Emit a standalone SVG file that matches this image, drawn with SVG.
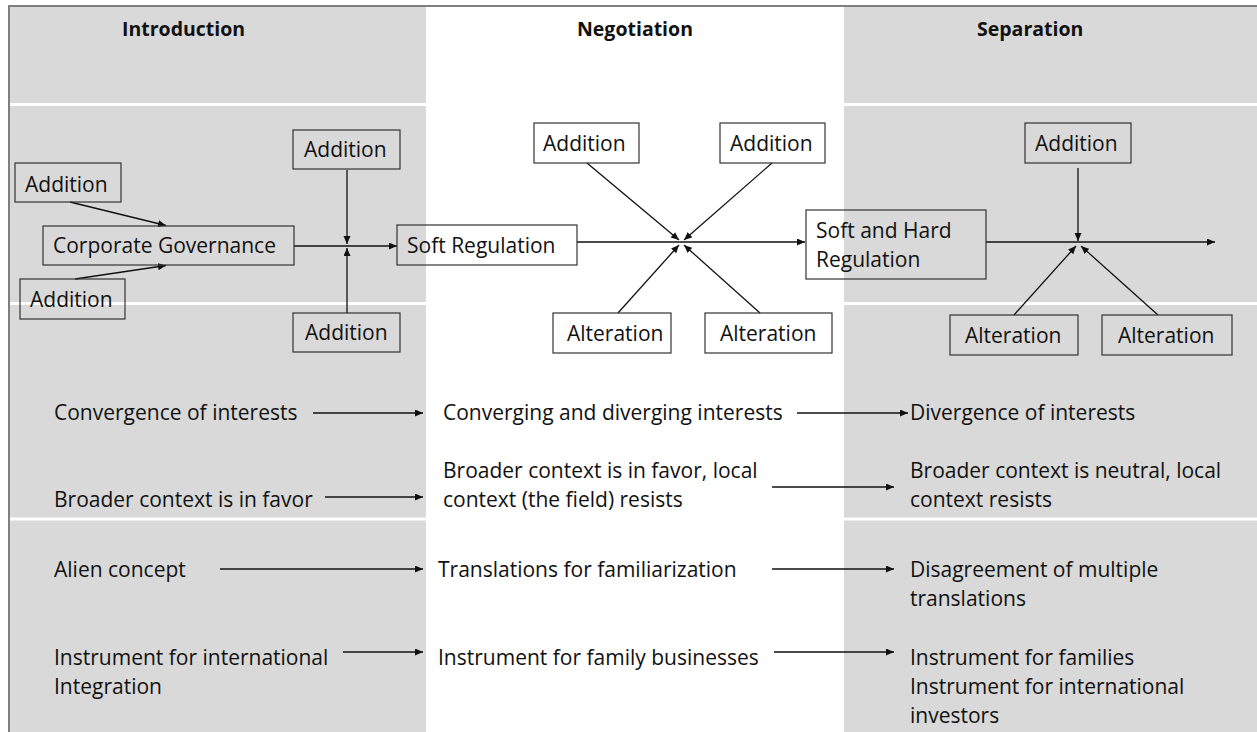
<svg xmlns="http://www.w3.org/2000/svg" width="1257" height="732" viewBox="0 0 1257 732">
  <defs>
    <style>
      .t { font-family: "Open Sans", "Noto Sans", "Liberation Sans", sans-serif; font-size: 21px; fill: #111; }
      .h { font-family: "Open Sans", "Noto Sans", "Liberation Sans", sans-serif; font-size: 19.5px; font-weight: 700; fill: #111; }
      .box { fill: none; stroke: #333; stroke-width: 1.2; }
      .c { stroke: #111; stroke-width: 1.3; fill: none; marker-end: url(#arr); }
      .sep { stroke: #fff; stroke-width: 3; }
    </style>
    <marker id="arr" markerUnits="userSpaceOnUse" markerWidth="9" markerHeight="8" refX="8" refY="3.5" orient="auto">
      <path d="M0,0 L8,3.5 L0,7 z" fill="#111"/>
    </marker>
  </defs>

  <!-- table background -->
  <rect x="0" y="0" width="1257" height="732" fill="#fff"/>
  <g id="columns">
    <rect x="10" y="7" width="416" height="725" fill="#d9d9d9"/>
    <rect x="844" y="7" width="413" height="725" fill="#d9d9d9"/>
    <line class="sep" x1="10" y1="104.5" x2="426" y2="104.5"/>
    <line class="sep" x1="844" y1="104.5" x2="1257" y2="104.5"/>
    <line class="sep" x1="10" y1="303.5" x2="426" y2="303.5"/>
    <line class="sep" x1="844" y1="303.5" x2="1257" y2="303.5"/>
    <line class="sep" x1="10" y1="519" x2="426" y2="519"/>
    <line class="sep" x1="844" y1="519" x2="1257" y2="519"/>
    <line x1="8" y1="6" x2="1257" y2="6" stroke="#7f7f7f" stroke-width="2"/>
    <line x1="9" y1="6" x2="9" y2="732" stroke="#7f7f7f" stroke-width="2"/>
  </g>

  <!-- column headers -->
  <g id="headers">
    <text class="h" x="122" y="36">Introduction</text>
    <text class="h" x="577" y="36">Negotiation</text>
    <text class="h" x="977" y="36">Separation</text>
  </g>

  <!-- connectors -->
  <g id="connectors">
    <line class="c" x1="70" y1="202" x2="166" y2="225.5"/>
    <line class="c" x1="75" y1="279" x2="166" y2="265.5"/>
    <line class="c" x1="294" y1="246" x2="397" y2="246"/>
    <line class="c" x1="347" y1="170" x2="347" y2="244"/>
    <line class="c" x1="347" y1="313" x2="347" y2="248"/>

    <line class="c" x1="577" y1="242" x2="805" y2="242"/>
    <line class="c" x1="587" y1="163" x2="679" y2="240"/>
    <line class="c" x1="772" y1="163" x2="684" y2="240"/>
    <line class="c" x1="618" y1="313" x2="679" y2="245"/>
    <line class="c" x1="760" y1="313" x2="684" y2="245"/>

    <line class="c" x1="986" y1="242" x2="1215" y2="242"/>
    <line class="c" x1="1078" y1="168" x2="1078" y2="241"/>
    <line class="c" x1="1014" y1="315" x2="1076" y2="246"/>
    <line class="c" x1="1158" y1="315" x2="1081" y2="246"/>

    <line class="c" x1="313" y1="413" x2="423" y2="413"/>
    <line class="c" x1="797" y1="413" x2="908" y2="413"/>
    <line class="c" x1="325" y1="497" x2="423" y2="497"/>
    <line class="c" x1="772" y1="487" x2="894" y2="487"/>
    <line class="c" x1="220" y1="569" x2="423" y2="569"/>
    <line class="c" x1="772" y1="569" x2="894" y2="569"/>
    <line class="c" x1="343" y1="652" x2="423" y2="652"/>
    <line class="c" x1="774" y1="652" x2="894" y2="652"/>
  </g>

  <!-- introduction phase -->
  <g id="intro-addition-1">
    <rect class="box" x="15" y="163" width="106" height="39"/>
    <text class="t" x="25" y="192">Addition</text>
  </g>
  <g id="corporate-governance">
    <rect class="box" x="43" y="226" width="251" height="39"/>
    <text class="t" x="53" y="253">Corporate Governance</text>
  </g>
  <g id="intro-addition-2">
    <rect class="box" x="20" y="279" width="105" height="40"/>
    <text class="t" x="30" y="307">Addition</text>
  </g>
  <g id="intro-addition-3">
    <rect class="box" x="293" y="130" width="107" height="39"/>
    <text class="t" x="304" y="157">Addition</text>
  </g>
  <g id="intro-addition-4">
    <rect class="box" x="293" y="313" width="107" height="39"/>
    <text class="t" x="305" y="340">Addition</text>
  </g>

  <!-- negotiation phase -->
  <g id="soft-regulation">
    <rect class="box" x="397" y="225" width="180" height="40"/>
    <text class="t" x="407" y="253">Soft Regulation</text>
  </g>
  <g id="neg-addition-1">
    <rect class="box" x="534" y="123" width="105" height="40"/>
    <text class="t" x="543" y="151">Addition</text>
  </g>
  <g id="neg-addition-2">
    <rect class="box" x="720" y="123" width="105" height="40"/>
    <text class="t" x="730" y="151">Addition</text>
  </g>
  <g id="neg-alteration-1">
    <rect class="box" x="553" y="313" width="118" height="40"/>
    <text class="t" x="567" y="341">Alteration</text>
  </g>
  <g id="neg-alteration-2">
    <rect class="box" x="705" y="313" width="127" height="40"/>
    <text class="t" x="720" y="341">Alteration</text>
  </g>

  <!-- separation phase -->
  <g id="soft-hard-regulation">
    <rect class="box" x="806" y="210" width="180" height="69"/>
    <text class="t" x="816" y="238">Soft and Hard</text>
    <text class="t" x="816" y="267">Regulation</text>
  </g>
  <g id="sep-addition">
    <rect class="box" x="1025" y="123" width="106" height="40"/>
    <text class="t" x="1035" y="151">Addition</text>
  </g>
  <g id="sep-alteration-1">
    <rect class="box" x="950" y="315" width="128" height="40"/>
    <text class="t" x="965" y="343">Alteration</text>
  </g>
  <g id="sep-alteration-2">
    <rect class="box" x="1102" y="315" width="130" height="40"/>
    <text class="t" x="1118" y="343">Alteration</text>
  </g>

  <!-- descriptive rows -->
  <g id="row-interests">
    <text class="t" x="54" y="420">Convergence of interests</text>
    <text class="t" x="443" y="420">Converging and diverging interests</text>
    <text class="t" x="910" y="420">Divergence of interests</text>
  </g>
  <g id="row-context">
    <text class="t" x="54" y="507">Broader context is in favor</text>
    <text class="t" x="443" y="478">Broader context is in favor, local</text>
    <text class="t" x="443" y="507">context (the field) resists</text>
    <text class="t" x="910" y="478">Broader context is neutral, local</text>
    <text class="t" x="910" y="507">context resists</text>
  </g>
  <g id="row-translation">
    <text class="t" x="54" y="577">Alien concept</text>
    <text class="t" x="438" y="577">Translations for familiarization</text>
    <text class="t" x="910" y="577">Disagreement of multiple</text>
    <text class="t" x="910" y="606">translations</text>
  </g>
  <g id="row-instrument">
    <text class="t" x="54" y="665">Instrument for international</text>
    <text class="t" x="54" y="694">Integration</text>
    <text class="t" x="438" y="665">Instrument for family businesses</text>
    <text class="t" x="910" y="665">Instrument for families</text>
    <text class="t" x="910" y="694">Instrument for international</text>
    <text class="t" x="910" y="723">investors</text>
  </g>
</svg>
